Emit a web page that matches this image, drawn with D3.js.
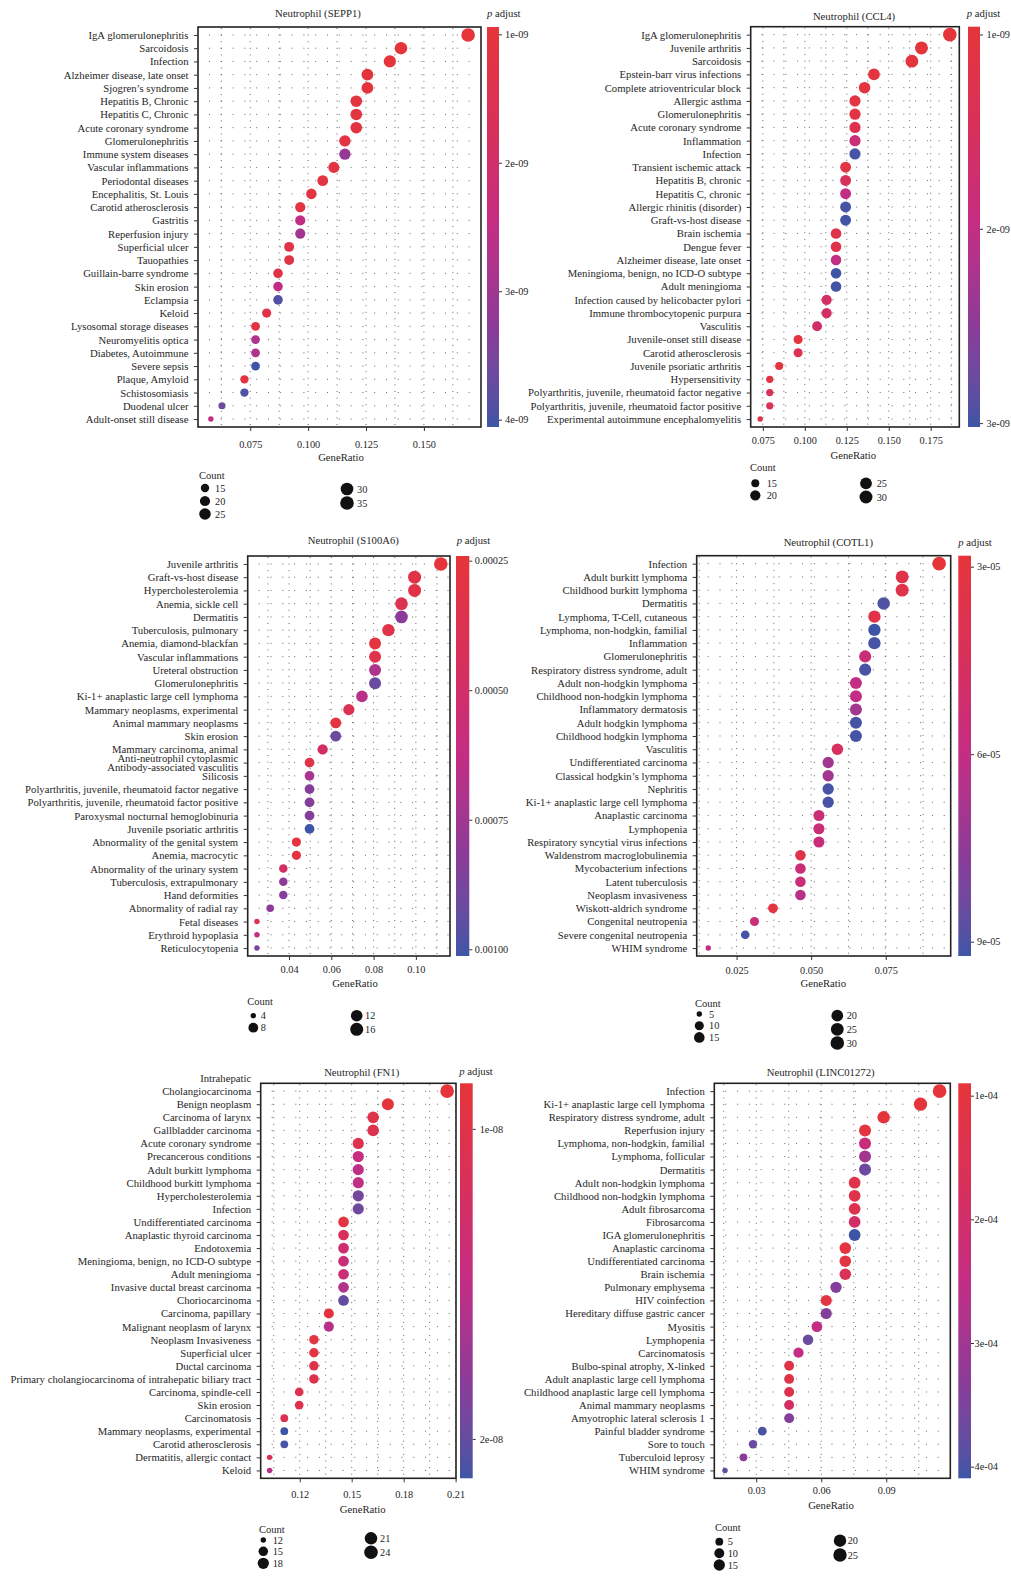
<!DOCTYPE html>
<html><head><meta charset="utf-8">
<script src="https://cdn.jsdelivr.net/npm/d3@7"></script>
<style>
body{margin:0;background:#fff}
svg{display:block}
</style>
</head><body>
<svg id="c" width="1011" height="1582"></svg>
<script>
// ===================== DATA =====================
// Panel 1: Neutrophil (SEPP1)
const sepp1Terms = ["IgA glomerulonephritis","Sarcoidosis","Infection","Alzheimer disease, late onset","Sjogren’s syndrome","Hepatitis B, Chronic","Hepatitis C, Chronic","Acute coronary syndrome","Glomerulonephritis","Immune system diseases","Vascular inflammations","Periodontal diseases","Encephalitis, St. Louis","Carotid atherosclerosis","Gastritis","Reperfusion injury","Superficial ulcer","Tauopathies","Guillain-barre syndrome","Skin erosion","Eclampsia","Keloid","Lysosomal storage diseases","Neuromyelitis optica","Diabetes, Autoimmune","Severe sepsis","Plaque, Amyloid","Schistosomiasis","Duodenal ulcer","Adult-onset still disease"];
const sepp1Ratio = [0.1691,0.1401,0.1353,0.1256,0.1256,0.1208,0.1208,0.1208,0.1159,0.1159,0.1111,0.1063,0.1014,0.0966,0.0966,0.0966,0.0918,0.0918,0.0870,0.0870,0.0870,0.0821,0.0773,0.0773,0.0773,0.0773,0.0725,0.0725,0.0628,0.0580];
const sepp1Count = [35,29,28,26,26,25,25,25,24,24,23,22,21,20,20,20,19,19,18,18,18,17,16,16,16,16,15,15,13,12];
const sepp1Padj = [0.943e-9,1.0e-9,1.0e-9,1.04e-9,1.04e-9,1.1e-9,1.1e-9,1.1e-9,1.1e-9,3.12e-9,1.1e-9,1.1e-9,1.15e-9,1.15e-9,2.5e-9,2.97e-9,1.25e-9,1.25e-9,1.2e-9,2.5e-9,3.9e-9,1.2e-9,1.15e-9,2.81e-9,2.81e-9,4.057e-9,1.15e-9,3.9e-9,3.62e-9,2.5e-9];
const sepp1XTicks = [0.075,0.100,0.125,0.150];
const sepp1XTickLabels = ["0.075","0.100","0.125","0.150"];
const sepp1PTicks = [1e-9,2e-9,3e-9,4e-9];
const sepp1PTickLabels = ["1e-09","2e-09","3e-09","4e-09"];
const sepp1CountBreaks = [15,20,25,30,35];

// Panel 2: Neutrophil (CCL4)
const ccl4Terms = ["IgA glomerulonephritis","Juvenile arthritis","Sarcoidosis","Epstein-barr virus infections","Complete atrioventricular block","Allergic asthma","Glomerulonephritis","Acute coronary syndrome","Inflammation","Infection","Transient ischemic attack","Hepatitis B, chronic","Hepatitis C, chronic","Allergic rhinitis (disorder)","Graft-vs-host disease","Brain ischemia","Dengue fever","Alzheimer disease, late onset","Meningioma, benign, no ICD-O subtype","Adult meningioma","Infection caused by helicobacter pylori","Immune thrombocytopenic purpura","Vasculitis","Juvenile-onset still disease","Carotid atherosclerosis","Juvenile psoriatic arthritis","Hypersensitivity","Polyarthritis, juvenile, rheumatoid factor negative","Polyarthritis, juvenile, rheumatoid factor positive","Experimental autoimmune encephalomyelitis"];
const ccl4Ratio = [0.1864,0.1695,0.1638,0.1412,0.1356,0.1299,0.1299,0.1299,0.1299,0.1299,0.1243,0.1243,0.1243,0.1243,0.1243,0.1186,0.1186,0.1186,0.1186,0.1186,0.1130,0.1130,0.1073,0.0960,0.0960,0.0847,0.0791,0.0791,0.0791,0.0734];
const ccl4Count = [33,30,29,25,24,23,23,23,23,23,22,22,22,22,22,21,21,21,21,21,20,20,19,17,17,15,14,14,14,13];
const ccl4Padj = [0.96e-9,1.0e-9,1.0e-9,1.02e-9,1.05e-9,1.1e-9,1.12e-9,1.27e-9,1.83e-9,2.98e-9,1.08e-9,1.48e-9,1.99e-9,2.98e-9,3.0e-9,1.21e-9,1.21e-9,1.99e-9,3.02e-9,3.0e-9,1.58e-9,1.58e-9,1.7e-9,1.05e-9,1.33e-9,1.05e-9,1.1e-9,1.41e-9,1.41e-9,1.27e-9];
const ccl4XTicks = [0.075,0.100,0.125,0.150,0.175];
const ccl4XTickLabels = ["0.075","0.100","0.125","0.150","0.175"];
const ccl4PTicks = [1e-9,2e-9,3e-9];
const ccl4PTickLabels = ["1e-09","2e-09","3e-09"];
const ccl4CountBreaks = [15,20,25,30];

// Panel 3: Neutrophil (S100A6)
const s100a6Terms = ["Juvenile arthritis","Graft-vs-host disease","Hypercholesterolemia","Anemia, sickle cell","Dermatitis","Tuberculosis, pulmonary","Anemia, diamond-blackfan","Vascular inflammations","Ureteral obstruction","Glomerulonephritis","Ki-1+ anaplastic large cell lymphoma","Mammary neoplasms, experimental","Animal mammary neoplasms","Skin erosion","Mammary carcinoma, animal","Anti-neutrophil cytoplasmic\nAntibody-associated vasculitis","Silicosis","Polyarthritis, juvenile, rheumatoid factor negative","Polyarthritis, juvenile, rheumatoid factor positive","Paroxysmal nocturnal hemoglobinuria","Juvenile psoriatic arthritis","Abnormality of the genital system","Anemia, macrocytic","Abnormality of the urinary system","Tuberculosis, extrapulmonary","Hand deformities","Abnormality of radial ray","Fetal diseases","Erythroid hypoplasia","Reticulocytopenia"];
const s100a6Ratio = [0.1118,0.0994,0.0994,0.0932,0.0932,0.0870,0.0807,0.0807,0.0807,0.0807,0.0745,0.0683,0.0621,0.0621,0.0559,0.0497,0.0497,0.0497,0.0497,0.0497,0.0497,0.0435,0.0435,0.0373,0.0373,0.0373,0.0311,0.0248,0.0248,0.0248];
const s100a6Count = [18,16,16,15,15,14,13,13,13,13,12,11,10,10,9,8,8,8,8,8,8,7,7,6,6,6,5,4,4,4];
const s100a6Padj = [2.41e-4,3.18e-4,3.18e-4,3.8e-4,8.2e-4,3.34e-4,2.72e-4,3.34e-4,7.04e-4,9.2e-4,6.65e-4,3.8e-4,2.8e-4,9.2e-4,4.73e-4,3.34e-4,7.2e-4,8.43e-4,8.43e-4,8.43e-4,10.13e-4,2.72e-4,2.72e-4,4.73e-4,8.12e-4,8.43e-4,8.12e-4,3.65e-4,6.27e-4,8.59e-4];
const s100a6XTicks = [0.04,0.06,0.08,0.10];
const s100a6XTickLabels = ["0.04","0.06","0.08","0.10"];
const s100a6PTicks = [0.00025,0.00050,0.00075,0.00100];
const s100a6PTickLabels = ["0.00025","0.00050","0.00075","0.00100"];
const s100a6CountBreaks = [4,8,12,16];

// Panel 4: Neutrophil (COTL1)
const cotl1Terms = ["Infection","Adult burkitt lymphoma","Childhood burkitt lymphoma","Dermatitis","Lymphoma, T-Cell, cutaneous","Lymphoma, non-hodgkin, familial","Inflammation","Glomerulonephritis","Respiratory distress syndrome, adult","Adult non-hodgkin lymphoma","Childhood non-hodgkin lymphoma","Inflammatory dermatosis","Adult hodgkin lymphoma","Childhood hodgkin lymphoma","Vasculitis","Undifferentiated carcinoma","Classical hodgkin’s lymphoma","Nephritis","Ki-1+ anaplastic large cell lymphoma","Anaplastic carcinoma","Lymphopenia","Respiratory syncytial virus infections","Waldenstrom macroglobulinemia","Mycobacterium infections","Latent tuberculosis","Neoplasm invasiveness","Wiskott-aldrich syndrome","Congenital neutropenia","Severe congenital neutropenia","WHIM syndrome"];
const cotl1Ratio = [0.0929,0.0805,0.0805,0.0743,0.0712,0.0712,0.0712,0.0681,0.0681,0.0650,0.0650,0.0650,0.0650,0.0650,0.0588,0.0557,0.0557,0.0557,0.0557,0.0526,0.0526,0.0526,0.0464,0.0464,0.0464,0.0464,0.0372,0.0310,0.0279,0.0155];
const cotl1Count = [30,26,26,24,23,23,23,22,22,21,21,21,21,21,19,18,18,18,18,17,17,17,15,15,15,15,12,10,9,5];
const cotl1Padj = [2.824e-5,3.59e-5,3.59e-5,8.97e-5,3.47e-5,9.229e-5,9.1e-5,5.51e-5,9.1e-5,6.03e-5,6.03e-5,6.99e-5,9.1e-5,9.1e-5,4.62e-5,6.99e-5,6.99e-5,9.1e-5,9.1e-5,5.51e-5,5.51e-5,5.71e-5,3.59e-5,5.51e-5,5.51e-5,6.35e-5,3.21e-5,5.51e-5,9.1e-5,6.03e-5];
const cotl1XTicks = [0.025,0.050,0.075];
const cotl1XTickLabels = ["0.025","0.050","0.075"];
const cotl1PTicks = [3e-5,6e-5,9e-5];
const cotl1PTickLabels = ["3e-05","6e-05","9e-05"];
const cotl1CountBreaks = [5,10,15,20,25,30];

// Panel 5: Neutrophil (FN1)
const fn1Terms = ["Intrahepatic\nCholangiocarcinoma","Benign neoplasm","Carcinoma of larynx","Gallbladder carcinoma","Acute coronary syndrome","Precancerous conditions","Adult burkitt lymphoma","Childhood burkitt lymphoma","Hypercholesterolemia","Infection","Undifferentiated carcinoma","Anaplastic thyroid carcinoma","Endotoxemia","Meningioma, benign, no ICD-O subtype","Adult meningioma","Invasive ductal breast carcinoma","Choriocarcinoma","Carcinoma, papillary","Malignant neoplasm of larynx","Neoplasm Invasiveness","Superficial ulcer","Ductal carcinoma","Primary cholangiocarcinoma of intrahepatic biliary tract","Carcinoma, spindle-cell","Skin erosion","Carcinomatosis","Mammary neoplasms, experimental","Carotid atherosclerosis","Dermatitis, allergic contact","Keloid"];
const fn1Ratio = [0.2051,0.1709,0.1624,0.1624,0.1538,0.1538,0.1538,0.1538,0.1538,0.1538,0.1453,0.1453,0.1453,0.1453,0.1453,0.1453,0.1453,0.1368,0.1368,0.1282,0.1282,0.1282,0.1282,0.1197,0.1197,0.1111,0.1111,0.1111,0.1026,0.1026];
const fn1Count = [24,20,19,19,18,18,18,18,18,18,17,17,17,17,17,17,17,16,16,15,15,15,15,14,14,13,13,13,12,12];
const fn1Padj = [0.853e-8,0.88e-8,1.006e-8,1.044e-8,1.044e-8,1.464e-8,1.515e-8,1.515e-8,1.923e-8,1.949e-8,0.917e-8,1.172e-8,1.337e-8,1.388e-8,1.388e-8,1.592e-8,2.0e-8,0.904e-8,1.554e-8,0.917e-8,0.942e-8,1.006e-8,1.019e-8,1.031e-8,1.07e-8,1.082e-8,2.127e-8,2.1e-8,1.172e-8,1.554e-8];
const fn1XTicks = [0.12,0.15,0.18,0.21];
const fn1XTickLabels = ["0.12","0.15","0.18","0.21"];
const fn1PTicks = [1e-8,2e-8];
const fn1PTickLabels = ["1e-08","2e-08"];
const fn1CountBreaks = [12,15,18,21,24];

// Panel 6: Neutrophil (LINC01272)
const lincTerms = ["Infection","Ki-1+ anaplastic large cell lymphoma","Respiratory distress syndrome, adult","Reperfusion injury","Lymphoma, non-hodgkin, familial","Lymphoma, follicular","Dermatitis","Adult non-hodgkin lymphoma","Childhood non-hodgkin lymphoma","Adult fibrosarcoma","Fibrosarcoma","IGA glomerulonephritis","Anaplastic carcinoma","Undifferentiated carcinoma","Brain ischemia","Pulmonary emphysema","HIV coinfection","Hereditary diffuse gastric cancer","Myositis","Lymphopenia","Carcinomatosis","Bulbo-spinal atrophy, X-linked","Adult anaplastic large cell lymphoma","Childhood anaplastic large cell lymphoma","Animal mammary neoplasms","Amyotrophic lateral sclerosis 1","Painful bladder syndrome","Sore to touch","Tuberculoid leprosy","WHIM syndrome"];
const lincRatio = [0.1146,0.1058,0.0888,0.0802,0.0802,0.0802,0.0802,0.0754,0.0754,0.0754,0.0754,0.0754,0.0711,0.0711,0.0711,0.0668,0.0623,0.0623,0.0580,0.0539,0.0495,0.0452,0.0452,0.0452,0.0452,0.0452,0.0328,0.0285,0.0241,0.0156];
const lincCount = [26,24,20,18,18,18,18,17,17,17,17,17,16,16,16,15,14,14,13,12,11,10,10,10,10,10,7,6,5,3];
const lincPadj = [0.9e-4,0.95e-4,0.98e-4,1.05e-4,2.34e-4,2.98e-4,3.68e-4,1.28e-4,1.28e-4,1.35e-4,1.92e-4,4.094e-4,1.03e-4,1.06e-4,1.54e-4,3.39e-4,1.06e-4,3.39e-4,2.5e-4,3.71e-4,2.5e-4,1.28e-4,1.28e-4,1.35e-4,1.86e-4,3.39e-4,4.0e-4,3.71e-4,3.3e-4,3.78e-4];
const lincXTicks = [0.03,0.06,0.09];
const lincXTickLabels = ["0.03","0.06","0.09"];
const lincPTicks = [1e-4,2e-4,3e-4,4e-4];
const lincPTickLabels = ["1e-04","2e-04","3e-04","4e-04"];
const lincCountBreaks = [5,10,15,20,25];

// ===================== STYLE / LAYOUT =====================
const FONT = "'Liberation Serif','Times New Roman','DejaVu Serif',serif";
const TXT = "#262626";
const DMIN = 5.4, DMAX = 13.6;
const colorStops = ["#e5353a","#d8305a","#c32d84","#8b3b98","#3e55a6"];
const colorInterp = d3.piecewise(d3.interpolateLab, colorStops);

const layouts = [
 {x0:198,x1:481,y0:27,y1:427,titleX:318,titleY:13,cbX0:487,cbX1:499,cbTick:3,cbPad:3,pLabX:487,pLabY:13.5,tickY:444,xLabX:341,xLabY:457,countX:199,countY:475,
  leg:[[205,488,215],[205,501,215],[205,514,215],[347,489,357],[347,503,357]]},
 {x0:750.7,x1:959.3,y0:26.7,y1:427,titleX:854,titleY:16.7,cbX0:968,cbX1:980,cbTick:3,cbPad:3.5,pLabX:966.7,pLabY:13.3,tickY:440.7,xLabX:853.3,xLabY:455,countX:750,countY:467.7,
  leg:[[755.3,483.3,766.7],[755.3,495.3,766.7],[866,483.3,876.7],[866,497,876.7]]},
 {x0:247.7,x1:450,y0:556,y1:956,titleX:353.3,titleY:540,cbX0:456,cbX1:469.3,cbTick:3,cbPad:2.5,pLabX:456.7,pLabY:540,tickY:969,xLabX:355,xLabY:983.3,countX:247.3,countY:1001.7,ml:[-4.3,4.3],
  leg:[[253.3,1015.7,260.7],[253.3,1027.7,260.7],[356.7,1015.7,365],[356.7,1029.3,365]]},
 {x0:696.7,x1:950.7,y0:555.7,y1:956,titleX:828.3,titleY:542.7,cbX0:958.3,cbX1:971,cbTick:3,cbPad:3,pLabX:958.3,pLabY:542.7,tickY:970,xLabX:823.3,xLabY:983.3,countX:695,countY:1003.3,
  leg:[[699.3,1014,709],[699.3,1025.7,709],[699.3,1037.4,709],[837.3,1015.7,846.7],[837.3,1029.3,846.7],[837.3,1043,846.7]]},
 {x0:260.7,x1:456,y0:1083.3,y1:1478.3,titleX:361.7,titleY:1072.3,cbX0:460,cbX1:472.7,cbTick:3,cbPad:4,pLabX:459.3,pLabY:1071.7,tickY:1494,xLabX:362.7,xLabY:1509.3,countX:259,countY:1529,ml:[-12.7,0],
  leg:[[263.3,1540,272.7],[263.3,1551.3,272.7],[263.3,1563.3,272.7],[371,1538.3,380],[371,1552.3,380]]},
 {x0:714.3,x1:950.3,y0:1083.3,y1:1478.3,titleX:820.7,titleY:1072.3,cbX0:958.3,cbX1:971,cbTick:3,cbPad:0.5,pLabX:null,pLabY:null,tickY:1490,xLabX:831,xLabY:1505,countX:715,countY:1527.7,
  leg:[[719.3,1541.7,727.7],[719.3,1553.3,727.7],[719.3,1565,727.7],[840,1540.7,847.7],[840,1555,847.7]]}
];

const panels = [
 {title:"Neutrophil (SEPP1)",terms:sepp1Terms,ratio:sepp1Ratio,count:sepp1Count,padj:sepp1Padj,xTicks:sepp1XTicks,xTickLabels:sepp1XTickLabels,pTicks:sepp1PTicks,pTickLabels:sepp1PTickLabels,countBreaks:sepp1CountBreaks},
 {title:"Neutrophil (CCL4)",terms:ccl4Terms,ratio:ccl4Ratio,count:ccl4Count,padj:ccl4Padj,xTicks:ccl4XTicks,xTickLabels:ccl4XTickLabels,pTicks:ccl4PTicks,pTickLabels:ccl4PTickLabels,countBreaks:ccl4CountBreaks},
 {title:"Neutrophil (S100A6)",terms:s100a6Terms,ratio:s100a6Ratio,count:s100a6Count,padj:s100a6Padj,xTicks:s100a6XTicks,xTickLabels:s100a6XTickLabels,pTicks:s100a6PTicks,pTickLabels:s100a6PTickLabels,countBreaks:s100a6CountBreaks},
 {title:"Neutrophil (COTL1)",terms:cotl1Terms,ratio:cotl1Ratio,count:cotl1Count,padj:cotl1Padj,xTicks:cotl1XTicks,xTickLabels:cotl1XTickLabels,pTicks:cotl1PTicks,pTickLabels:cotl1PTickLabels,countBreaks:cotl1CountBreaks},
 {title:"Neutrophil (FN1)",terms:fn1Terms,ratio:fn1Ratio,count:fn1Count,padj:fn1Padj,xTicks:fn1XTicks,xTickLabels:fn1XTickLabels,pTicks:fn1PTicks,pTickLabels:fn1PTickLabels,countBreaks:fn1CountBreaks},
 {title:"Neutrophil (LINC01272)",terms:lincTerms,ratio:lincRatio,count:lincCount,padj:lincPadj,xTicks:lincXTicks,xTickLabels:lincXTickLabels,pTicks:lincPTicks,pTickLabels:lincPTickLabels,countBreaks:lincCountBreaks}
];

// ===================== DRAW =====================
const svg = d3.select("#c");
svg.append("rect").attr("width",1011).attr("height",1582).attr("fill","#fff");
const defs = svg.append("defs");

function styleAxis(a, size){
  a.attr("font-family", FONT).attr("font-size", size).attr("color", TXT);
  a.select(".domain").remove();
  a.selectAll(".tick line").attr("stroke","#333").attr("stroke-width",1);
  a.selectAll(".tick text").attr("fill", TXT);
}

panels.forEach((P, idx) => {
  const L = layouts[idx];
  const g = svg.append("g");
  const ext = d3.extent(P.ratio), pad = (ext[1]-ext[0])*0.05;
  const x = d3.scaleLinear().domain([ext[0]-pad, ext[1]+pad]).range([L.x0, L.x1]);
  const y = d3.scalePoint().domain(P.terms).range([L.y0, L.y1]).padding(0.6);
  const pExt = d3.extent(P.padj);
  const color = d3.scaleSequential(colorInterp).domain(pExt);
  const cs = d3.scaleLinear().domain(d3.extent(P.count)).range([0,1]).clamp(true);
  const rad = c => (DMIN + (DMAX-DMIN)*Math.sqrt(cs(c)))/2;

  // grid (dotted)
  const step = (P.xTicks[1]-P.xTicks[0])/2;
  const dom = x.domain();
  const kMin = Math.ceil((dom[0]-P.xTicks[0])/step), kMax = Math.floor((dom[1]-P.xTicks[0])/step);
  const vx = d3.range(kMin, kMax+1).map(k => P.xTicks[0] + k*step);
  g.selectAll("line.vg").data(vx).join("line").attr("class","vg")
    .attr("x1",d=>x(d)).attr("x2",d=>x(d)).attr("y1",L.y0+1).attr("y2",L.y1-1)
    .attr("stroke","#555").attr("stroke-width",0.9).attr("stroke-dasharray","1 5.6");
  g.selectAll("line.hg").data(P.terms).join("line").attr("class","hg")
    .attr("x1",L.x0+11).attr("x2",L.x1-1).attr("y1",d=>y(d)).attr("y2",d=>y(d))
    .attr("stroke","#555").attr("stroke-width",0.9).attr("stroke-dasharray","1 10.8");

  // dots
  g.selectAll("circle.dot").data(d3.range(P.terms.length)).join("circle").attr("class","dot")
    .attr("cx", i => x(P.ratio[i])).attr("cy", i => y(P.terms[i]))
    .attr("r", i => rad(P.count[i])).attr("fill", i => color(P.padj[i]));

  // frame
  g.append("rect").attr("x",L.x0).attr("y",L.y0).attr("width",L.x1-L.x0).attr("height",L.y1-L.y0)
    .attr("fill","none").attr("stroke","#222").attr("stroke-width",1.6);

  // y axis
  const ya = g.append("g").attr("transform",`translate(${L.x0},0)`)
    .call(d3.axisLeft(y).tickSize(4).tickPadding(5.5));
  styleAxis(ya, 10.7);
  ya.selectAll(".tick text").each(function(d){
    if (d.indexOf("\n") >= 0) {
      const lines = d.split("\n");
      const t = d3.select(this);
      const xx = t.attr("x");
      t.text(null).attr("dy", null);
      lines.forEach((ln, i) => t.append("tspan").attr("x", xx).attr("y", L.ml[i]).attr("dy","0.32em").text(ln));
    }
  });

  // x axis
  const xa = g.append("g").attr("transform",`translate(0,${L.y1})`)
    .call(d3.axisBottom(x).tickValues(P.xTicks).tickFormat((d,i)=>P.xTickLabels[i]).tickSize(4));
  styleAxis(xa, 10.3);
  xa.selectAll(".tick text").attr("y", L.tickY - L.y1).attr("dy","0.35em");

  g.append("text").attr("x",L.xLabX).attr("y",L.xLabY).attr("dy","0.35em").attr("text-anchor","middle")
    .attr("font-family",FONT).attr("font-size",10.7).attr("fill",TXT).text("GeneRatio");
  g.append("text").attr("x",L.titleX).attr("y",L.titleY).attr("dy","0.35em").attr("text-anchor","middle")
    .attr("font-family",FONT).attr("font-size",10.7).attr("fill",TXT).text(P.title);

  // colorbar
  const gid = "grad" + idx;
  const grad = defs.append("linearGradient").attr("id",gid).attr("x1",0).attr("y1",0).attr("x2",0).attr("y2",1);
  d3.range(0, 1.0001, 0.05).forEach(t => grad.append("stop").attr("offset", t).attr("stop-color", colorInterp(t)));
  g.append("rect").attr("x",L.cbX0).attr("y",L.y0).attr("width",L.cbX1-L.cbX0).attr("height",L.y1-L.y0)
    .attr("fill",`url(#${gid})`);
  const cyS = d3.scaleLinear().domain(pExt).range([L.y0, L.y1]);
  const ca = g.append("g").attr("transform",`translate(${L.cbX1},0)`)
    .call(d3.axisRight(cyS).tickValues(P.pTicks).tickFormat((d,i)=>P.pTickLabels[i]).tickSize(L.cbTick).tickPadding(L.cbPad));
  styleAxis(ca, 10.3);

  if (L.pLabX !== null) {
    const pt = g.append("text").attr("x",L.pLabX).attr("y",L.pLabY).attr("dy","0.35em")
      .attr("font-family",FONT).attr("font-size",10.7).attr("fill",TXT);
    pt.append("tspan").attr("font-style","italic").text("p");
    pt.append("tspan").text(" adjust");
  }

  // size legend
  g.append("text").attr("x",L.countX).attr("y",L.countY).attr("dy","0.35em")
    .attr("font-family",FONT).attr("font-size",10.5).attr("fill",TXT).text("Count");
  P.countBreaks.forEach((c, i) => {
    const it = L.leg[i];
    g.append("circle").attr("cx",it[0]).attr("cy",it[1]).attr("r",rad(c)).attr("fill","#111");
    g.append("text").attr("x",it[2]).attr("y",it[1]).attr("dy","0.35em")
      .attr("font-family",FONT).attr("font-size",10.3).attr("fill",TXT).text(c);
  });
});
</script>
</body></html>
